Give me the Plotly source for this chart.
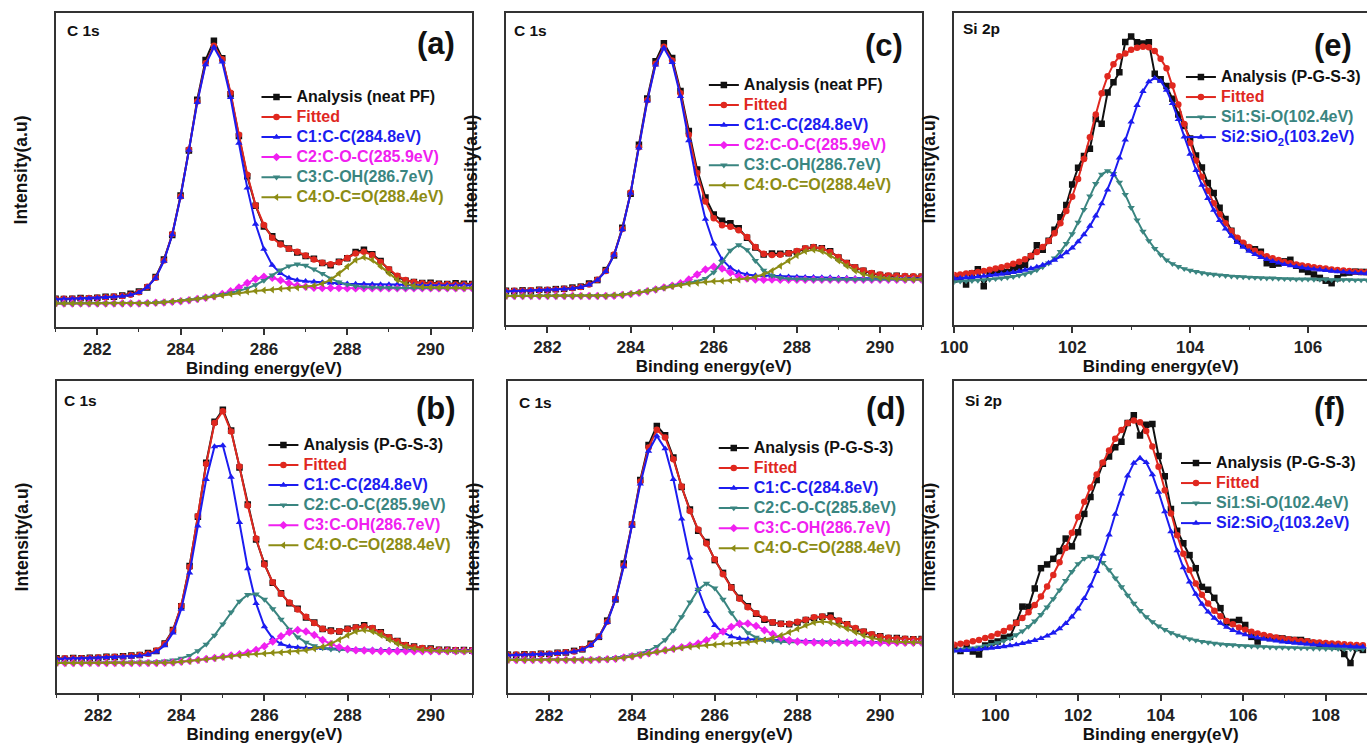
import plotly.graph_objects as go

FONT = "Liberation Sans, Arial, Helvetica, sans-serif"
BLACK = "#111111"
RED = "#e0281f"
BLUE = "#1c1cf0"
MAGENTA = "#f020f0"
TEAL = "#3a8580"
OLIVE = "#8c8c14"

# ---------------- C 1s energy grid (eV) ----------------
x_c1s = [281.0, 281.2, 281.4, 281.6, 281.8, 282.0, 282.2, 282.4, 282.6, 282.8,
         283.0, 283.2, 283.4, 283.6, 283.8, 284.0, 284.2, 284.4, 284.6, 284.8,
         285.0, 285.2, 285.4, 285.6, 285.8, 286.0, 286.2, 286.4, 286.6, 286.8,
         287.0, 287.2, 287.4, 287.6, 287.8, 288.0, 288.2, 288.4, 288.6, 288.8,
         289.0, 289.2, 289.4, 289.6, 289.8, 290.0, 290.2, 290.4, 290.6, 290.8, 291.0]

# ---------------- panel (a) neat PF, C 1s ----------------
a_ana = [9.0, 8.9, 9.0, 9.2, 9.1, 9.3, 9.6, 9.6, 10.0, 10.6, 11.3,
         12.6, 15.9, 21.5, 29.3, 41.9, 56.2, 72.4, 85.0, 91.2, 85.6,
         74.1, 60.8, 48.0, 38.6, 32.0, 28.9, 26.6, 25.0, 23.7, 22.6,
         21.7, 20.4, 19.7, 20.8, 21.9, 23.9, 24.6, 23.2, 21.0, 18.2,
         16.1, 14.7, 14.3, 14.0, 14.1, 13.8, 13.7, 13.9, 13.8, 13.7]
a_fit = [8.9, 9.0, 9.0, 9.1, 9.2, 9.3, 9.5, 9.7, 9.9, 10.3, 11.1,
         12.8, 15.7, 21.2, 29.6, 41.6, 56.5, 71.8, 84.0, 89.6, 85.3,
         74.6, 61.2, 48.5, 38.8, 32.5, 28.4, 26.3, 24.9, 24.0, 22.8,
         21.5, 20.5, 20.0, 20.6, 22.0, 23.4, 24.0, 22.9, 20.7, 18.4,
         16.3, 15.0, 14.3, 13.9, 13.8, 13.6, 13.6, 13.5, 13.5, 13.5]
a_c1 = [8.8, 8.9, 8.9, 9.0, 9.1, 9.2, 9.4, 9.6, 9.8, 10.2, 11.0,
        12.7, 15.6, 21.0, 29.4, 41.4, 56.3, 71.5, 83.6, 89.1, 84.4,
        73.1, 58.6, 44.3, 32.8, 24.8, 19.7, 17.1, 15.6, 14.9, 14.6,
        14.4, 14.2, 14.0, 13.9, 13.8, 13.7, 13.7, 13.6, 13.5, 13.5,
        13.5, 13.4, 13.4, 13.4, 13.4, 13.3, 13.3, 13.3, 13.3, 13.3]
a_c2 = [7.5, 7.5, 7.5, 7.5, 7.5, 7.5, 7.5, 7.5, 7.5, 7.5, 7.5,
        7.6, 7.7, 7.8, 8.0, 8.2, 8.5, 8.9, 9.3, 9.8, 10.5,
        11.4, 12.6, 14.0, 15.3, 16.0, 15.7, 14.9, 13.9, 13.2, 12.8,
        12.5, 12.4, 12.4, 12.4, 12.3, 12.3, 12.3, 12.3, 12.3, 12.3,
        12.3, 12.3, 12.3, 12.3, 12.3, 12.3, 12.3, 12.3, 12.3, 12.3]
a_c3 = [7.5, 7.5, 7.5, 7.5, 7.5, 7.5, 7.5, 7.5, 7.5, 7.5, 7.5,
        7.6, 7.7, 7.9, 8.1, 8.3, 8.6, 8.9, 9.4, 9.8, 10.3,
        10.8, 11.5, 12.3, 13.4, 14.8, 16.5, 18.1, 19.4, 20.0, 19.6,
        18.4, 17.0, 15.5, 14.3, 13.5, 13.0, 12.7, 12.6, 12.5, 12.5,
        12.4, 12.4, 12.4, 12.4, 12.4, 12.4, 12.4, 12.4, 12.4, 12.4]
a_c4 = [7.5, 7.5, 7.5, 7.5, 7.5, 7.5, 7.5, 7.5, 7.5, 7.5, 7.5,
        7.6, 7.7, 7.9, 8.1, 8.3, 8.6, 8.9, 9.3, 9.7, 10.1,
        10.5, 10.9, 11.2, 11.5, 11.7, 11.9, 12.2, 12.3, 12.5, 12.7,
        13.1, 13.8, 15.0, 17.0, 19.3, 21.3, 22.2, 21.3, 19.3, 17.0,
        15.0, 13.8, 13.1, 12.7, 12.6, 12.5, 12.5, 12.4, 12.4, 12.4]

# ---------------- panel (b) P-G-S-3, C 1s ----------------
b_ana = [11.1, 11.0, 11.2, 11.1, 11.3, 11.3, 11.6, 11.5, 11.8, 12.0, 12.2,
         12.8, 13.5, 15.9, 20.2, 27.8, 40.7, 56.5, 73.8, 86.9, 90.8,
         84.1, 72.3, 60.4, 49.2, 41.5, 35.3, 32.0, 28.8, 27.0, 24.2,
         22.6, 20.5, 20.0, 19.7, 20.6, 21.0, 21.7, 20.7, 19.5, 17.8,
         16.7, 15.3, 14.9, 14.3, 14.3, 13.9, 13.9, 13.7, 13.8, 13.6]
b_fit = [11.0, 11.1, 11.1, 11.1, 11.2, 11.4, 11.5, 11.6, 11.7, 11.9, 12.2,
         12.6, 13.6, 15.7, 20.0, 28.0, 40.4, 56.7, 73.4, 86.5, 90.3,
         83.8, 72.6, 60.1, 49.5, 41.2, 35.5, 31.8, 29.0, 26.8, 24.4,
         22.4, 20.6, 19.8, 19.8, 20.4, 21.0, 21.4, 20.8, 19.3, 17.9,
         16.6, 15.4, 14.8, 14.4, 14.1, 13.9, 13.8, 13.8, 13.7, 13.7]
b_c1 = [10.9, 11.0, 11.0, 11.0, 11.1, 11.2, 11.3, 11.4, 11.5, 11.6, 11.9,
        12.3, 13.2, 15.2, 19.3, 26.9, 38.5, 53.6, 68.5, 79.0, 79.3,
        69.2, 54.7, 39.9, 28.7, 21.3, 17.5, 15.7, 14.9, 14.6, 14.4,
        14.4, 14.3, 14.2, 14.1, 14.0, 13.9, 13.9, 13.9, 13.8, 13.8,
        13.8, 13.7, 13.7, 13.7, 13.7, 13.6, 13.6, 13.6, 13.6, 13.6]
b_c2 = [9.7, 9.7, 9.7, 9.7, 9.7, 9.8, 9.8, 9.8, 9.8, 9.9, 9.9,
        9.9, 10.0, 10.2, 10.5, 11.1, 12.0, 13.5, 15.6, 18.5, 22.1,
        25.9, 29.4, 31.5, 31.7, 30.0, 27.0, 23.6, 20.4, 17.9, 16.2,
        15.1, 14.4, 14.0, 13.8, 13.7, 13.6, 13.6, 13.6, 13.5, 13.5,
        13.5, 13.4, 13.4, 13.4, 13.4, 13.4, 13.4, 13.4, 13.4, 13.4]
b_c3 = [9.6, 9.6, 9.6, 9.6, 9.6, 9.6, 9.6, 9.6, 9.6, 9.6, 9.6,
        9.6, 9.6, 9.7, 9.8, 10.0, 10.3, 10.6, 10.9, 11.2, 11.6,
        12.0, 12.4, 13.0, 13.8, 15.0, 16.5, 18.2, 19.5, 20.2, 19.7,
        18.6, 17.0, 15.7, 14.7, 14.1, 13.7, 13.6, 13.5, 13.4, 13.4,
        13.4, 13.4, 13.4, 13.4, 13.4, 13.4, 13.4, 13.4, 13.4, 13.4]
b_c4 = [9.6, 9.6, 9.6, 9.6, 9.6, 9.6, 9.6, 9.6, 9.6, 9.6, 9.6,
        9.6, 9.6, 9.7, 9.8, 10.0, 10.2, 10.5, 10.8, 11.1, 11.5,
        11.8, 12.1, 12.3, 12.5, 12.7, 12.9, 13.0, 13.2, 13.4, 13.7,
        14.2, 14.8, 15.8, 17.1, 18.5, 19.7, 20.2, 19.7, 18.5, 17.1,
        15.8, 14.8, 14.2, 13.8, 13.6, 13.5, 13.4, 13.4, 13.4, 13.4]

# ---------------- panel (c) neat PF, C 1s ----------------
c_ana = [11.0, 10.9, 11.1, 11.0, 11.3, 11.2, 11.5, 11.6, 12.0, 12.3, 13.3,
         14.4, 17.6, 22.3, 31.2, 42.1, 57.8, 72.6, 84.5, 90.3, 85.6,
         75.0, 62.2, 49.8, 40.9, 35.4, 33.4, 32.6, 31.0, 28.0, 24.8,
         22.6, 22.9, 22.8, 23.0, 23.5, 24.4, 24.9, 24.6, 23.6, 21.6,
         19.9, 18.4, 17.4, 16.5, 16.0, 15.7, 15.8, 15.5, 15.4, 15.5]
c_fit = [10.9, 11.0, 11.0, 11.1, 11.2, 11.3, 11.4, 11.6, 11.8, 12.2, 13.0,
         14.5, 17.3, 22.6, 30.8, 42.5, 57.0, 72.0, 83.7, 89.2, 84.8,
         74.3, 61.0, 48.7, 39.6, 34.2, 32.0, 31.5, 30.4, 28.2, 25.0,
         22.8, 22.4, 22.5, 23.0, 23.7, 24.6, 25.0, 24.5, 23.4, 21.8,
         19.9, 18.5, 17.5, 16.7, 16.2, 15.9, 15.8, 15.7, 15.6, 15.6]
c_c1 = [10.8, 10.9, 10.9, 11.0, 11.1, 11.2, 11.3, 11.5, 11.7, 12.1, 12.9,
        14.4, 17.2, 22.4, 30.6, 42.3, 56.8, 71.8, 83.4, 88.8, 84.2,
        73.3, 59.1, 45.2, 33.9, 26.0, 21.0, 18.3, 16.9, 16.2, 15.9,
        15.8, 15.7, 15.6, 15.5, 15.4, 15.3, 15.3, 15.2, 15.2, 15.1,
        15.1, 15.0, 15.0, 15.0, 15.0, 14.9, 14.9, 14.9, 14.9, 14.9]
c_c2 = [9.3, 9.3, 9.3, 9.3, 9.3, 9.3, 9.3, 9.3, 9.3, 9.3, 9.3,
        9.3, 9.3, 9.4, 9.6, 9.9, 10.3, 10.8, 11.4, 12.0, 12.6,
        13.4, 14.6, 16.2, 17.8, 18.7, 18.1, 16.8, 15.6, 14.9, 14.6,
        14.5, 14.6, 14.5, 14.5, 14.5, 14.5, 14.5, 14.5, 14.5, 14.5,
        14.5, 14.5, 14.5, 14.5, 14.5, 14.5, 14.5, 14.5, 14.5, 14.5]
c_c3 = [9.3, 9.3, 9.3, 9.3, 9.3, 9.3, 9.3, 9.3, 9.3, 9.3, 9.3,
        9.3, 9.3, 9.5, 9.7, 10.0, 10.4, 10.9, 11.4, 11.9, 12.5,
        12.9, 13.4, 14.0, 14.9, 16.9, 20.2, 23.9, 25.7, 24.1, 20.6,
        17.5, 15.8, 15.1, 14.8, 14.7, 14.7, 14.6, 14.6, 14.6, 14.6,
        14.6, 14.6, 14.6, 14.6, 14.6, 14.6, 14.6, 14.6, 14.6, 14.6]
c_c4 = [9.3, 9.3, 9.3, 9.3, 9.3, 9.3, 9.3, 9.3, 9.3, 9.3, 9.3,
        9.3, 9.3, 9.5, 9.7, 10.0, 10.4, 10.9, 11.4, 11.9, 12.4,
        12.8, 13.2, 13.5, 13.8, 14.0, 14.1, 14.3, 14.5, 14.9, 15.4,
        16.2, 17.4, 18.9, 20.6, 22.3, 23.6, 24.1, 23.6, 22.3, 20.6,
        18.9, 17.4, 16.3, 15.6, 15.2, 14.9, 14.8, 14.7, 14.7, 14.6]

# ---------------- panel (d) P-G-S-3, C 1s ----------------
d_ana = [12.3, 12.2, 12.4, 12.3, 12.6, 12.5, 12.9, 13.0, 13.5, 14.0, 15.8,
         18.0, 23.2, 30.0, 41.5, 54.0, 68.3, 79.5, 85.6, 82.6, 75.5,
         66.0, 58.8, 52.0, 48.4, 42.6, 38.5, 33.9, 30.5, 27.8, 25.4,
         23.5, 22.6, 22.2, 22.0, 22.6, 23.4, 24.0, 24.4, 24.8, 23.1,
         22.0, 20.5, 19.6, 18.7, 18.2, 17.6, 17.6, 17.3, 17.2, 17.3]
d_fit = [12.2, 12.3, 12.3, 12.4, 12.5, 12.6, 12.8, 13.1, 13.3, 14.1, 15.5,
         18.1, 22.8, 30.2, 40.9, 54.1, 67.8, 78.7, 84.4, 81.9, 74.9,
         66.2, 58.3, 52.4, 47.9, 42.9, 38.1, 33.8, 30.2, 27.5, 25.6,
         23.8, 22.7, 22.1, 22.2, 22.8, 23.5, 24.3, 24.5, 24.2, 23.2,
         22.0, 20.8, 19.7, 18.8, 18.1, 17.7, 17.5, 17.4, 17.2, 17.2]
d_c1 = [12.1, 12.2, 12.2, 12.3, 12.4, 12.5, 12.7, 12.9, 13.2, 13.9, 15.3,
        17.9, 22.6, 29.9, 40.5, 53.6, 67.0, 77.5, 82.4, 78.3, 68.5,
        55.8, 43.3, 33.2, 26.2, 21.7, 19.4, 18.1, 17.5, 17.3, 17.2,
        17.0, 16.9, 16.8, 16.7, 16.7, 16.6, 16.6, 16.5, 16.5, 16.4,
        16.4, 16.4, 16.4, 16.3, 16.3, 16.3, 16.3, 16.3, 16.2, 16.2]
d_c2 = [10.7, 10.7, 10.7, 10.7, 10.7, 10.7, 10.7, 10.7, 10.7, 10.8, 10.8,
        10.9, 11.0, 11.3, 11.6, 12.1, 12.7, 13.6, 14.9, 17.0, 20.1,
        24.4, 29.1, 33.2, 35.1, 33.6, 30.0, 25.7, 21.9, 19.3, 17.8,
        17.0, 16.6, 16.4, 16.3, 16.3, 16.2, 16.2, 16.2, 16.1, 16.1,
        16.1, 16.1, 16.1, 16.1, 16.1, 16.1, 16.1, 16.1, 16.1, 16.1]
d_c3 = [10.6, 10.6, 10.6, 10.6, 10.6, 10.6, 10.6, 10.6, 10.6, 10.6, 10.6,
        10.7, 10.8, 11.0, 11.4, 11.8, 12.2, 12.7, 13.2, 13.7, 14.2,
        14.7, 15.2, 15.9, 16.9, 18.3, 19.7, 21.2, 22.2, 22.3, 21.5,
        20.1, 18.9, 17.7, 16.9, 16.5, 16.3, 16.2, 16.1, 16.1, 16.1,
        16.1, 16.1, 16.1, 16.1, 16.1, 16.1, 16.1, 16.1, 16.1, 16.1]
d_c4 = [10.6, 10.6, 10.6, 10.6, 10.6, 10.6, 10.6, 10.6, 10.6, 10.6, 10.6,
        10.7, 10.8, 11.0, 11.3, 11.7, 12.2, 12.7, 13.2, 13.7, 14.1,
        14.5, 14.8, 15.1, 15.3, 15.5, 15.8, 15.9, 16.0, 16.3, 16.6,
        17.0, 17.6, 18.4, 19.5, 20.6, 21.7, 22.6, 22.9, 22.6, 21.7,
        20.6, 19.5, 18.4, 17.6, 17.0, 16.6, 16.4, 16.3, 16.2, 16.2]

# ---------------- panel (e) Si 2p ----------------
x_e = [100.0, 100.1, 100.2, 100.3, 100.4, 100.5, 100.6, 100.7, 100.8, 100.9,
       101.0, 101.1, 101.2, 101.3, 101.4, 101.5, 101.6, 101.7, 101.8, 101.9,
       102.0, 102.1, 102.2, 102.3, 102.4, 102.5, 102.6, 102.7, 102.8, 102.9,
       103.0, 103.1, 103.2, 103.3, 103.4, 103.5, 103.6, 103.7, 103.8, 103.9,
       104.0, 104.1, 104.2, 104.3, 104.4, 104.5, 104.6, 104.7, 104.8, 104.9,
       105.0, 105.1, 105.2, 105.3, 105.4, 105.5, 105.6, 105.7, 105.8, 105.9,
       106.0, 106.1, 106.2, 106.3, 106.4, 106.5, 106.6, 106.7, 106.8, 106.9, 107.0]
e_ana = [14.6, 15.2, 13.0, 16.5, 17.9, 12.4, 16.9, 17.0, 17.2, 17.0,
         18.2, 18.6, 19.3, 22.0, 25.6, 24.1, 27.0, 30.5, 34.5, 38.5,
         45.0, 50.4, 54.2, 56.5, 66.0, 64.5, 74.5, 77.8, 81.0, 90.7,
         92.5, 90.6, 90.2, 90.6, 80.5, 78.8, 76.6, 72.5, 67.5, 63.8,
         59.8, 54.3, 50.5, 45.5, 42.3, 37.6, 34.0, 30.2, 27.4, 25.8,
         24.6, 24.3, 23.5, 19.8, 19.3, 19.7, 20.4, 20.9, 19.0, 17.8,
         17.0, 16.2, 15.1, 14.2, 13.4, 15.0, 16.6, 16.8, 17.1, 17.0, 17.0]
e_fit = [16.0, 16.2, 16.5, 16.7, 17.0, 17.3, 17.7, 18.1, 18.5, 19.0,
         19.6, 20.3, 21.1, 22.2, 23.4, 25.0, 26.9, 29.4, 32.6, 36.5,
         41.1, 46.8, 53.2, 60.2, 67.5, 74.3, 79.7, 83.6, 86.1, 87.0,
         88.2, 88.9, 89.2, 89.0, 87.8, 85.3, 82.3, 76.8, 70.7, 64.4,
         58.3, 52.7, 47.5, 43.0, 39.0, 35.5, 32.6, 30.1, 28.0, 26.4,
         25.0, 23.8, 22.8, 22.0, 21.4, 20.8, 20.2, 19.8, 19.4, 19.1,
         18.8, 18.5, 18.3, 18.1, 17.8, 17.6, 17.5, 17.3, 17.1, 17.0, 16.9]
e_si1 = [13.9, 14.0, 14.1, 14.2, 14.3, 14.4, 14.6, 14.8, 15.0, 15.2,
         15.5, 15.9, 16.3, 16.9, 17.6, 18.6, 19.8, 21.4, 23.5, 26.1,
         29.2, 32.9, 37.0, 41.3, 45.3, 48.3, 49.4, 48.5, 45.7, 41.8,
         37.6, 33.6, 30.0, 27.0, 24.5, 22.5, 20.8, 19.6, 18.7, 18.0,
         17.5, 17.1, 16.7, 16.4, 16.2, 16.0, 15.8, 15.6, 15.5, 15.4,
         15.3, 15.2, 15.1, 15.0, 15.0, 14.9, 14.8, 14.8, 14.7, 14.7,
         14.7, 14.6, 14.6, 14.6, 14.5, 14.5, 14.5, 14.5, 14.4, 14.4, 14.4]
e_si2 = [14.9, 15.0, 15.2, 15.3, 15.5, 15.7, 15.9, 16.1, 16.3, 16.6,
         16.9, 17.2, 17.6, 18.1, 18.6, 19.2, 19.9, 20.8, 21.9, 23.2,
         24.7, 26.7, 29.0, 31.7, 35.0, 38.9, 43.3, 48.2, 53.6, 59.3,
         65.1, 70.4, 74.9, 78.0, 79.1, 78.2, 75.3, 71.0, 65.9, 60.3,
         54.8, 49.6, 44.8, 40.6, 36.8, 33.5, 30.8, 28.5, 26.5, 25.0,
         23.7, 22.6, 21.7, 21.0, 20.4, 19.9, 19.4, 19.0, 18.7, 18.4,
         18.1, 17.9, 17.7, 17.5, 17.3, 17.1, 17.0, 16.8, 16.7, 16.6, 16.5]

# ---------------- panel (f) Si 2p ----------------
x_f = [99.0, 99.15, 99.3, 99.45, 99.6, 99.75, 99.9, 100.05, 100.2, 100.35,
       100.5, 100.65, 100.8, 100.95, 101.1, 101.25, 101.4, 101.55, 101.7, 101.85,
       102.0, 102.15, 102.3, 102.45, 102.6, 102.75, 102.9, 103.05, 103.2, 103.35,
       103.5, 103.65, 103.8, 103.95, 104.1, 104.25, 104.4, 104.55, 104.7, 104.85,
       105.0, 105.15, 105.3, 105.45, 105.6, 105.75, 105.9, 106.05, 106.2, 106.35,
       106.5, 106.65, 106.8, 106.95, 107.1, 107.25, 107.4, 107.55, 107.7, 107.85,
       108.0, 108.15, 108.3, 108.45, 108.6, 108.75, 108.9]
f_ana = [14.5, 13.5, 14.6, 13.3, 12.3, 15.2, 16.0, 16.5, 17.7, 18.0,
         22.5, 27.7, 27.6, 33.5, 40.0, 41.2, 43.0, 45.5, 49.5, 47.0,
         51.5, 57.4, 62.8, 68.3, 73.5, 75.8, 78.8, 80.5, 86.5, 89.0,
         82.5, 86.0, 86.2, 76.0, 69.5, 59.0, 52.0, 48.0, 44.2, 40.0,
         34.0, 33.1, 30.5, 27.2, 22.6, 22.8, 23.4, 21.8, 18.0, 16.5,
         18.0, 17.6, 17.6, 17.5, 17.1, 17.0, 17.0, 16.5, 16.0, 15.6,
         15.4, 15.0, 14.8, 12.5, 9.6, 14.4, 13.8]
f_fit = [15.5, 15.8, 16.1, 16.6, 17.0, 17.6, 18.2, 19.0, 19.9, 21.0,
         22.4, 24.0, 25.9, 28.2, 30.9, 34.1, 37.8, 41.9, 46.5, 51.4,
         56.4, 61.3, 65.9, 70.0, 73.9, 77.7, 81.5, 84.3, 86.5, 87.3,
         86.8, 84.0, 79.0, 72.5, 65.0, 57.5, 50.6, 44.6, 39.4, 35.1,
         31.5, 28.7, 26.4, 24.6, 23.1, 22.0, 21.0, 20.3, 19.6, 19.1,
         18.6, 18.2, 17.8, 17.5, 17.2, 17.0, 16.7, 16.6, 16.3, 16.2,
         16.0, 15.9, 15.8, 15.6, 15.5, 15.4, 15.3]
f_si1 = [13.7, 13.9, 14.1, 14.4, 14.7, 15.1, 15.5, 16.1, 16.7, 17.5,
         18.6, 19.8, 21.3, 23.0, 25.1, 27.5, 30.2, 33.0, 36.0, 38.9,
         41.4, 43.1, 43.8, 43.3, 41.8, 39.5, 36.8, 34.0, 31.3, 28.7,
         26.4, 24.4, 22.8, 21.4, 20.3, 19.3, 18.5, 17.9, 17.3, 16.9,
         16.5, 16.2, 15.9, 15.7, 15.5, 15.4, 15.2, 15.1, 15.0, 14.9,
         14.8, 14.7, 14.6, 14.6, 14.5, 14.5, 14.4, 14.4, 14.3, 14.3,
         14.2, 14.2, 14.2, 14.1, 14.1, 14.1, 14.1]
f_si2 = [13.5, 13.6, 13.7, 13.9, 14.0, 14.2, 14.4, 14.6, 14.9, 15.2,
         15.5, 15.9, 16.3, 16.9, 17.5, 18.3, 19.3, 20.6, 22.3, 24.4,
         27.0, 30.3, 34.3, 39.0, 44.5, 50.7, 57.3, 63.8, 69.6, 73.7,
         75.3, 73.9, 70.0, 64.4, 58.1, 51.7, 45.6, 40.2, 35.6, 31.7,
         28.5, 26.0, 24.0, 22.4, 21.1, 20.1, 19.3, 18.7, 18.1, 17.7,
         17.3, 17.0, 16.7, 16.4, 16.2, 16.0, 15.8, 15.7, 15.5, 15.4,
         15.3, 15.2, 15.1, 15.0, 14.9, 14.8, 14.8]

# ---------------- labels ----------------
lbl_neat = "Analysis (neat PF)"
lbl_pgs = "Analysis (P-G-S-3)"
lbl_fit = "Fitted"
lbl_c1 = "C1:C-C(284.8eV)"
lbl_c2 = "C2:C-O-C(285.9eV)"
lbl_c2d = "C2:C-O-C(285.8eV)"
lbl_c3 = "C3:C-OH(286.7eV)"
lbl_c4 = "C4:O-C=O(288.4eV)"
lbl_si1 = "Si1:Si-O(102.4eV)"
lbl_si2 = "Si2:SiO<sub>2</sub>(103.2eV)"

panels = [
    dict(n="", legend="legend", x=x_c1s, series=[
        (lbl_neat, a_ana, BLACK, "square"), (lbl_fit, a_fit, RED, "circle"),
        (lbl_c1, a_c1, BLUE, "triangle-up"), (lbl_c2, a_c2, MAGENTA, "diamond"),
        (lbl_c3, a_c3, TEAL, "triangle-down"), (lbl_c4, a_c4, OLIVE, "triangle-left")]),
    dict(n="2", legend="legend2", x=x_c1s, series=[
        (lbl_neat, c_ana, BLACK, "square"), (lbl_fit, c_fit, RED, "circle"),
        (lbl_c1, c_c1, BLUE, "triangle-up"), (lbl_c2, c_c2, MAGENTA, "diamond"),
        (lbl_c3, c_c3, TEAL, "triangle-down"), (lbl_c4, c_c4, OLIVE, "triangle-left")]),
    dict(n="3", legend="legend3", x=x_e, series=[
        (lbl_pgs, e_ana, BLACK, "square"), (lbl_fit, e_fit, RED, "circle"),
        (lbl_si1, e_si1, TEAL, "triangle-down"), (lbl_si2, e_si2, BLUE, "triangle-up")]),
    dict(n="4", legend="legend4", x=x_c1s, series=[
        (lbl_pgs, b_ana, BLACK, "square"), (lbl_fit, b_fit, RED, "circle"),
        (lbl_c1, b_c1, BLUE, "triangle-up"), (lbl_c2, b_c2, TEAL, "triangle-down"),
        (lbl_c3, b_c3, MAGENTA, "diamond"), (lbl_c4, b_c4, OLIVE, "triangle-left")]),
    dict(n="5", legend="legend5", x=x_c1s, series=[
        (lbl_pgs, d_ana, BLACK, "square"), (lbl_fit, d_fit, RED, "circle"),
        (lbl_c1, d_c1, BLUE, "triangle-up"), (lbl_c2d, d_c2, TEAL, "triangle-down"),
        (lbl_c3, d_c3, MAGENTA, "diamond"), (lbl_c4, d_c4, OLIVE, "triangle-left")]),
    dict(n="6", legend="legend6", x=x_f, series=[
        (lbl_pgs, f_ana, BLACK, "square"), (lbl_fit, f_fit, RED, "circle"),
        (lbl_si1, f_si1, TEAL, "triangle-down"), (lbl_si2, f_si2, BLUE, "triangle-up")]),
]

fig = go.Figure()
for p in panels:
    for name, ys, col, sym in p["series"]:
        fig.add_trace(go.Scatter(
            x=p["x"], y=ys, mode="lines+markers",
            name='<span style="color:%s;font-size:16px">%s</span>' % (col, name),
            line=dict(color=col, width=2),
            marker=dict(symbol=sym, size=6.5, color=col, line=dict(width=0)),
            xaxis="x" + p["n"], yaxis="y" + p["n"], legend=p["legend"],
            hoverinfo="skip"))

W, H = 1367, 746
def px_x(v):
    return v / W
def px_y(v):
    return 1 - v / H

# axis frames in pixels: (left, right, top, bottom)
frames = {
    "": (42, 463, 13, 327),
    "2": (497, 917, 13, 325),
    "3": (950, 1367, 13, 325),
    "4": (43, 463, 381, 693),
    "5": (499, 917, 381, 693),
    "6": (950, 1367, 381, 693),
}
xranges = {"": [281, 291], "2": [281, 291], "3": [100, 107],
           "4": [281, 291], "5": [281, 291], "6": [99, 109]}
ystandoff = {"": 22, "2": 22, "3": 12, "4": 22, "5": 22, "6": 12}

tickfont = dict(family=FONT, size=17, color="#222222", weight="bold")
xtitlefont = dict(family=FONT, size=17, color="#111111", weight="bold")
ytitlefont = dict(family=FONT, size=17.5, color="#111111", weight="bold")
layout = dict(width=W, height=H, margin=dict(l=0, r=0, t=0, b=0),
              paper_bgcolor="white", plot_bgcolor="white", showlegend=True)
for n, (l, r, t, b) in frames.items():
    layout["xaxis" + n] = dict(
        domain=[px_x(l), min(1.0, px_x(r))], anchor="y" + n, range=xranges[n],
        showline=True, linecolor="#333333", linewidth=1.6, mirror=True,
        ticks="outside", ticklen=6, tickwidth=1.5, tickcolor="#333333", dtick=2,
        minor=dict(ticks="outside", ticklen=3.5, tickwidth=1.3, dtick=1, tickcolor="#333333"),
        showgrid=False, zeroline=False, tickfont=tickfont,
        title=dict(text="Binding energy(eV)", font=xtitlefont, standoff=4))
    layout["yaxis" + n] = dict(
        domain=[px_y(b), px_y(t)], anchor="x" + n, range=[0, 100],
        showline=True, linecolor="#333333", linewidth=1.6,
        mirror=(n not in ("3", "6")),
        ticks="", showticklabels=False, showgrid=False, zeroline=False,
        title=dict(text="Intensity(a.u)", font=ytitlefont, standoff=ystandoff[n]))

legend_pos = {"legend": (296, 97), "legend2": (748, 85), "legend3": (1230, 77),
              "legend4": (303, 445), "legend5": (758, 448), "legend6": (1225, 463)}
for key, (tx, cy) in legend_pos.items():
    layout[key] = dict(x=(tx - 51) / W, y=1 - (cy - 15) / H, xanchor="left", yanchor="top",
                       bgcolor="rgba(0,0,0,0)", borderwidth=0, itemwidth=30,
                       font=dict(family=FONT, size=13.1, color="#111111", weight="bold"))

ann = []
def add_text(txt, x, y, size):
    ann.append(dict(text=txt, x=px_x(x), y=px_y(y), xref="paper", yref="paper",
                    showarrow=False, xanchor="center", yanchor="middle",
                    font=dict(family=FONT, size=size, color="#111111", weight="bold")))

for txt, x, y in [("(a)", 426, 43), ("(c)", 879, 45), ("(e)", 1333, 45),
                  ("(b)", 426, 408), ("(d)", 881, 408), ("(f)", 1329, 408)]:
    add_text(txt, x, y, 31)
for txt, x, y in [("C 1s", 70, 30), ("C 1s", 522, 30), ("Si 2p", 978, 28),
                  ("C 1s", 67, 400), ("C 1s", 527, 402), ("Si 2p", 980, 400)]:
    add_text(txt, x, y, 15.5)
layout["annotations"] = ann

fig.update_layout(**layout)
fig.write_html("out.html")
